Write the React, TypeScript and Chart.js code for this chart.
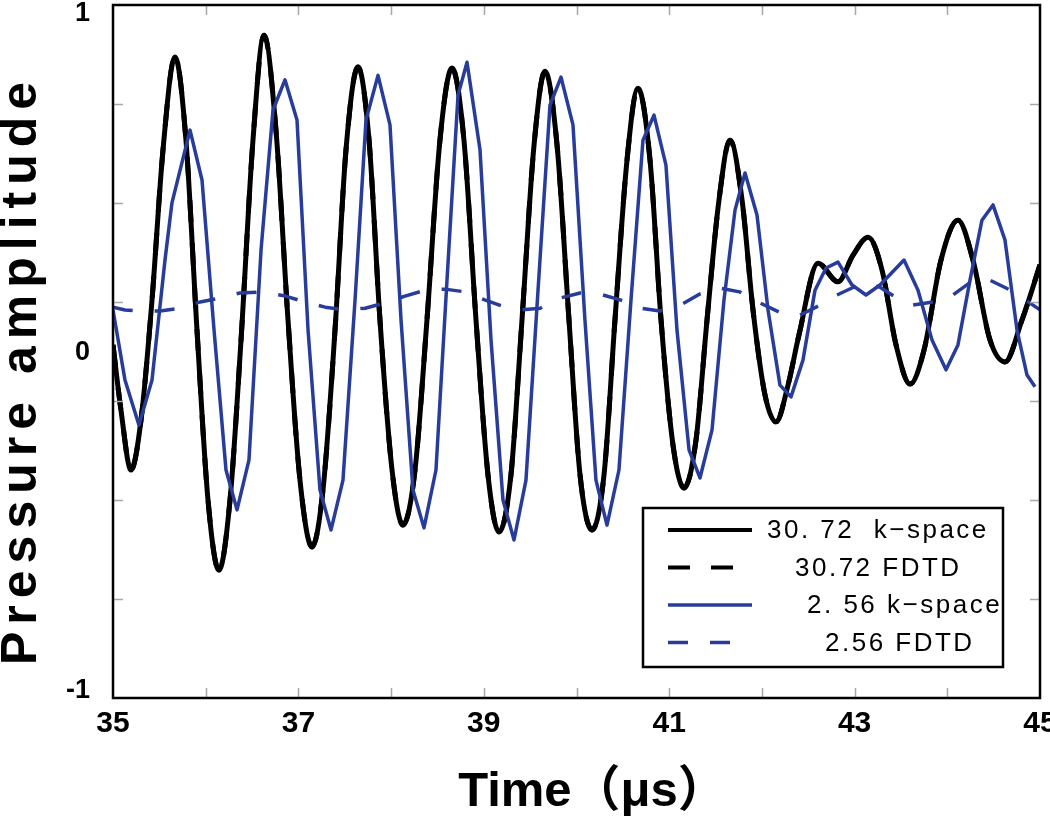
import React, { useEffect, useRef } from 'react';
import { Chart, registerables } from 'chart.js';

Chart.register(...registerables);

// ---------- data ----------
const blackTime = [
  35.000, 35.086, 35.194, 35.302, 35.421, 35.539, 35.669, 35.787, 35.906, 36.025,
  36.143, 36.262, 36.381, 36.510, 36.629, 36.758, 36.888, 37.017, 37.147, 37.265,
  37.395, 37.513, 37.643, 37.762, 37.880, 38.010, 38.128, 38.258, 38.387, 38.527,
  38.657, 38.786, 38.916, 39.045, 39.164, 39.293, 39.412, 39.542, 39.660, 39.790,
  39.919, 40.038, 40.167, 40.297, 40.415, 40.545, 40.663, 40.793, 40.912, 41.041,
  41.160, 41.289, 41.408, 41.537, 41.656, 41.786, 41.904, 42.034, 42.152, 42.282,
  42.400, 42.605, 42.821, 42.983, 43.145, 43.296, 43.447, 43.598, 43.749, 43.932,
  44.115, 44.277, 44.461, 44.622, 44.806, 45.000,
];
const blackValue = [
  0.019, -0.169, -0.342, -0.198, 0.149, 0.581, 0.850, 0.610, 0.062, -0.429,
  -0.631, -0.429, 0.033, 0.610, 0.913, 0.639, 0.091, -0.371, -0.564, -0.400,
  0.062, 0.581, 0.821, 0.610, 0.091, -0.342, -0.501, -0.342, 0.091, 0.610,
  0.818, 0.610, 0.091, -0.356, -0.521, -0.356, 0.091, 0.596, 0.809, 0.596,
  0.091, -0.356, -0.515, -0.356, 0.091, 0.553, 0.760, 0.553, 0.091, -0.270,
  -0.394, -0.256, 0.091, 0.437, 0.610, 0.437, 0.120, -0.126, -0.203, -0.097,
  0.048, 0.255, 0.201, 0.278, 0.330, 0.235, 0.019, -0.094, 0.004, 0.264,
  0.379, 0.264, 0.033, -0.030, 0.091, 0.250,
];

const blueTime = [
  35.000, 35.129, 35.280, 35.421, 35.561, 35.636, 35.831, 35.960, 36.090, 36.219,
  36.338, 36.467, 36.597, 36.726, 36.855, 36.985, 37.104, 37.233, 37.352, 37.481,
  37.611, 37.729, 37.859, 37.988, 38.107, 38.236, 38.355, 38.484, 38.603, 38.722,
  38.819, 38.959, 39.078, 39.207, 39.326, 39.455, 39.585, 39.714, 39.833, 39.962,
  40.091, 40.210, 40.329, 40.458, 40.588, 40.717, 40.836, 40.965, 41.084, 41.214,
  41.332, 41.462, 41.591, 41.710, 41.818, 41.947, 42.066, 42.195, 42.314, 42.443,
  42.573, 42.692, 42.821, 42.972, 43.123, 43.274, 43.533, 43.684, 43.835, 43.986,
  44.115, 44.245, 44.374, 44.493, 44.622, 44.752, 44.860, 44.946,
];
const blueValue = [
  0.120, -0.082, -0.212, -0.082, 0.264, 0.429, 0.639, 0.495, 0.062, -0.342,
  -0.457, -0.313, 0.293, 0.697, 0.784, 0.668, 0.062, -0.400, -0.515, -0.371,
  0.149, 0.668, 0.797, 0.654, 0.091, -0.400, -0.509, -0.342, 0.206, 0.740,
  0.835, 0.582, 0.033, -0.429, -0.544, -0.371, 0.177, 0.711, 0.792, 0.654,
  0.091, -0.371, -0.501, -0.342, 0.149, 0.610, 0.682, 0.538, 0.062, -0.284,
  -0.365, -0.226, 0.149, 0.408, 0.515, 0.394, 0.120, -0.097, -0.131, -0.025,
  0.177, 0.241, 0.258, 0.192, 0.163, 0.192, 0.264, 0.177, 0.033, -0.053,
  0.019, 0.206, 0.379, 0.423, 0.322, 0.062, -0.068, -0.102,
];

const fdtdTime = [
  35.00, 35.13, 35.29, 35.51, 35.72, 35.94, 36.15, 36.37, 36.61, 36.86,
  37.07, 37.29, 37.50, 37.72, 37.93, 38.15, 38.37, 38.58, 38.80, 39.01,
  39.23, 39.39, 39.61, 39.82, 40.04, 40.25, 40.47, 40.69, 40.90, 41.12,
  41.33, 41.55, 41.76, 41.98, 42.23, 42.41, 42.63, 42.81, 43.09, 43.27,
  43.46, 43.63, 43.85, 44.03, 44.28, 44.46, 44.68, 44.84, 45.00,
];
const fdtdValue = [
  0.128, 0.120, 0.117, 0.117, 0.125, 0.143, 0.154, 0.169, 0.172, 0.160,
  0.143, 0.128, 0.120, 0.125, 0.140, 0.160, 0.177, 0.180, 0.172, 0.149,
  0.128, 0.120, 0.125, 0.154, 0.169, 0.166, 0.149, 0.125, 0.117, 0.134,
  0.166, 0.183, 0.172, 0.140, 0.108, 0.105, 0.134, 0.163, 0.198, 0.186,
  0.154, 0.134, 0.143, 0.157, 0.206, 0.206, 0.177, 0.149, 0.120,
];

const seriesLabels = ['30. 72  k\u2212space', '30.72 FDTD', '2. 56 k\u2212space', '2.56 FDTD'];
const xTickLabels = ['35', '37', '39', '41', '43', '45'];
const yTickLabels = ['-1', '0', '1'];
const yTickLabelValues = [-1, 0, 1];
const yMinorTicks = [-0.714, -0.429, -0.143, 0.143, 0.429, 0.714];
const xTitle = 'Time\uFF08\u03BCs\uFF09';
const yTitle = 'Pressure amplitude';

// ---------- styles ----------
const FONT = "'Liberation Sans', Arial, 'Noto Sans CJK SC', sans-serif";
const BLUE = '#283c9b';

const pts = (xs: number[], ys: number[]) => xs.map((x, i) => ({ x, y: ys[i] }));

const decor = {
  id: 'decor',
  afterDraw(chart: any) {
    const { ctx, chartArea: a, scales } = chart;
    const xs = scales.x;
    const ys = scales.y;
    ctx.save();

    // inward minor tick marks
    ctx.strokeStyle = '#a8a8a8';
    ctx.lineWidth = 1.5;
    ctx.beginPath();
    xs.ticks.forEach((t: any) => {
      if (t.value <= xs.min || t.value >= xs.max) return;
      const px = Math.round(xs.getPixelForValue(t.value)) + 0.5;
      ctx.moveTo(px, a.bottom);
      ctx.lineTo(px, a.bottom - 10);
      ctx.moveTo(px, a.top);
      ctx.lineTo(px, a.top + 10);
    });
    ys.ticks.forEach((t: any) => {
      if (t.value <= ys.min || t.value >= ys.max) return;
      const py = Math.round(ys.getPixelForValue(t.value)) + 0.5;
      ctx.moveTo(a.left, py);
      ctx.lineTo(a.left + 10, py);
      ctx.moveTo(a.right, py);
      ctx.lineTo(a.right - 10, py);
    });
    ctx.stroke();

    // frame
    ctx.strokeStyle = '#000';
    ctx.lineWidth = 2.5;
    ctx.strokeRect(a.left, a.top, a.right - a.left, a.bottom - a.top);

    // y tick labels
    ctx.fillStyle = '#000';
    ctx.font = `bold 27px ${FONT}`;
    ctx.textAlign = 'right';
    ctx.textBaseline = 'middle';
    yTickLabelValues.forEach((v, i) => {
      let py = ys.getPixelForValue(v);
      py = Math.min(Math.max(py, a.top + 8), a.bottom - 8);
      ctx.fillText(yTickLabels[i], a.left - 23, py + 1);
    });

    // x title
    ctx.font = `bold 49px ${FONT}`;
    ctx.textAlign = 'center';
    ctx.textBaseline = 'alphabetic';
    ctx.fillText(xTitle, (a.left + a.right) / 2 + 16, 806);

    // y title (rotated, letter-spaced)
    ctx.save();
    ctx.translate(36, 665);
    ctx.rotate(-Math.PI / 2);
    ctx.font = `bold 50px ${FONT}`;
    (ctx as any).letterSpacing = '7px';
    ctx.textAlign = 'left';
    ctx.fillText(yTitle, 0, 0);
    ctx.restore();

    // legend
    const bx = a.right - 397;
    const by = a.bottom - 190;
    const bw = 360;
    const bh = 159;
    ctx.fillStyle = '#fff';
    ctx.fillRect(bx, by, bw, bh);
    ctx.strokeStyle = '#000';
    ctx.lineWidth = 2.5;
    ctx.strokeRect(bx, by, bw, bh);
    const textOffsets = [124, 152, 164, 182];
    chart.data.datasets.forEach((ds: any, i: number) => {
      const ry = by + 22 + i * 37.5;
      ctx.save();
      ctx.strokeStyle = ds.borderColor;
      ctx.lineWidth = Math.min(ds.borderWidth, 4);
      ctx.setLineDash(ds.borderDash || []);
      ctx.beginPath();
      ctx.moveTo(bx + 25, ry);
      ctx.lineTo(bx + 109, ry);
      ctx.stroke();
      ctx.restore();
      ctx.save();
      ctx.fillStyle = '#000';
      ctx.font = `26px ${FONT}`;
      (ctx as any).letterSpacing = '2.5px';
      ctx.textAlign = 'left';
      ctx.textBaseline = 'middle';
      ctx.fillText(ds.label, bx + textOffsets[i], ry + 1);
      ctx.restore();
    });

    ctx.restore();
  },
};

export default function App() {
  const ref = useRef<HTMLCanvasElement>(null);
  useEffect(() => {
    const chart = new Chart(ref.current as HTMLCanvasElement, {
      type: 'line',
      data: {
        datasets: [
          {
            label: seriesLabels[0],
            data: pts(blackTime, blackValue),
            borderColor: '#000',
            borderWidth: 5,
            cubicInterpolationMode: 'monotone',
            order: 2,
          },
          {
            label: seriesLabels[1],
            data: pts(blackTime, blackValue),
            borderColor: '#000',
            borderWidth: 5,
            borderDash: [22, 21],
            cubicInterpolationMode: 'monotone',
            order: 3,
          },
          {
            label: seriesLabels[2],
            data: pts(blueTime, blueValue),
            borderColor: BLUE,
            borderWidth: 3.5,
            order: 1,
          },
          {
            label: seriesLabels[3],
            data: pts(fdtdTime, fdtdValue),
            borderColor: BLUE,
            borderWidth: 3.5,
            borderDash: [20, 22],
            order: 0,
          },
        ] as any,
      },
      options: {
        animation: false,
        responsive: true,
        maintainAspectRatio: false,
        devicePixelRatio: 1,
        layout: { padding: { left: 0, top: 5, right: 10, bottom: 0 } },
        elements: {
          point: { radius: 0 },
          line: { tension: 0, borderJoinStyle: 'round', fill: false },
        },
        plugins: { legend: { display: false }, tooltip: { enabled: false } },
        scales: {
          x: {
            type: 'linear',
            min: 35,
            max: 45,
            grid: { display: false, drawTicks: false },
            border: { display: false },
            ticks: {
              stepSize: 1,
              autoSkip: false,
              maxRotation: 0,
              padding: 8,
              color: '#000',
              font: { family: FONT, size: 30, weight: 'bold' },
              callback: (v: any) => (xTickLabels.includes(String(v)) ? String(v) : ''),
            },
            afterFit: (s: any) => {
              s.height = 121;
              s.paddingLeft = 0;
              s.paddingRight = 0;
            },
          },
          y: {
            type: 'linear',
            min: -1,
            max: 1,
            grid: { display: false, drawTicks: false },
            border: { display: false },
            ticks: { display: false },
            afterBuildTicks: (s: any) => {
              s.ticks = yMinorTicks.map((v) => ({ value: v }));
            },
            afterFit: (s: any) => {
              s.width = 113;
            },
          },
        },
      } as any,
      plugins: [decor],
    });
    return () => chart.destroy();
  }, []);

  return (
    <div style={{ position: 'fixed', left: 0, top: 0, width: 1050, height: 819, background: '#fff' }}>
      <canvas ref={ref} />
    </div>
  );
}
